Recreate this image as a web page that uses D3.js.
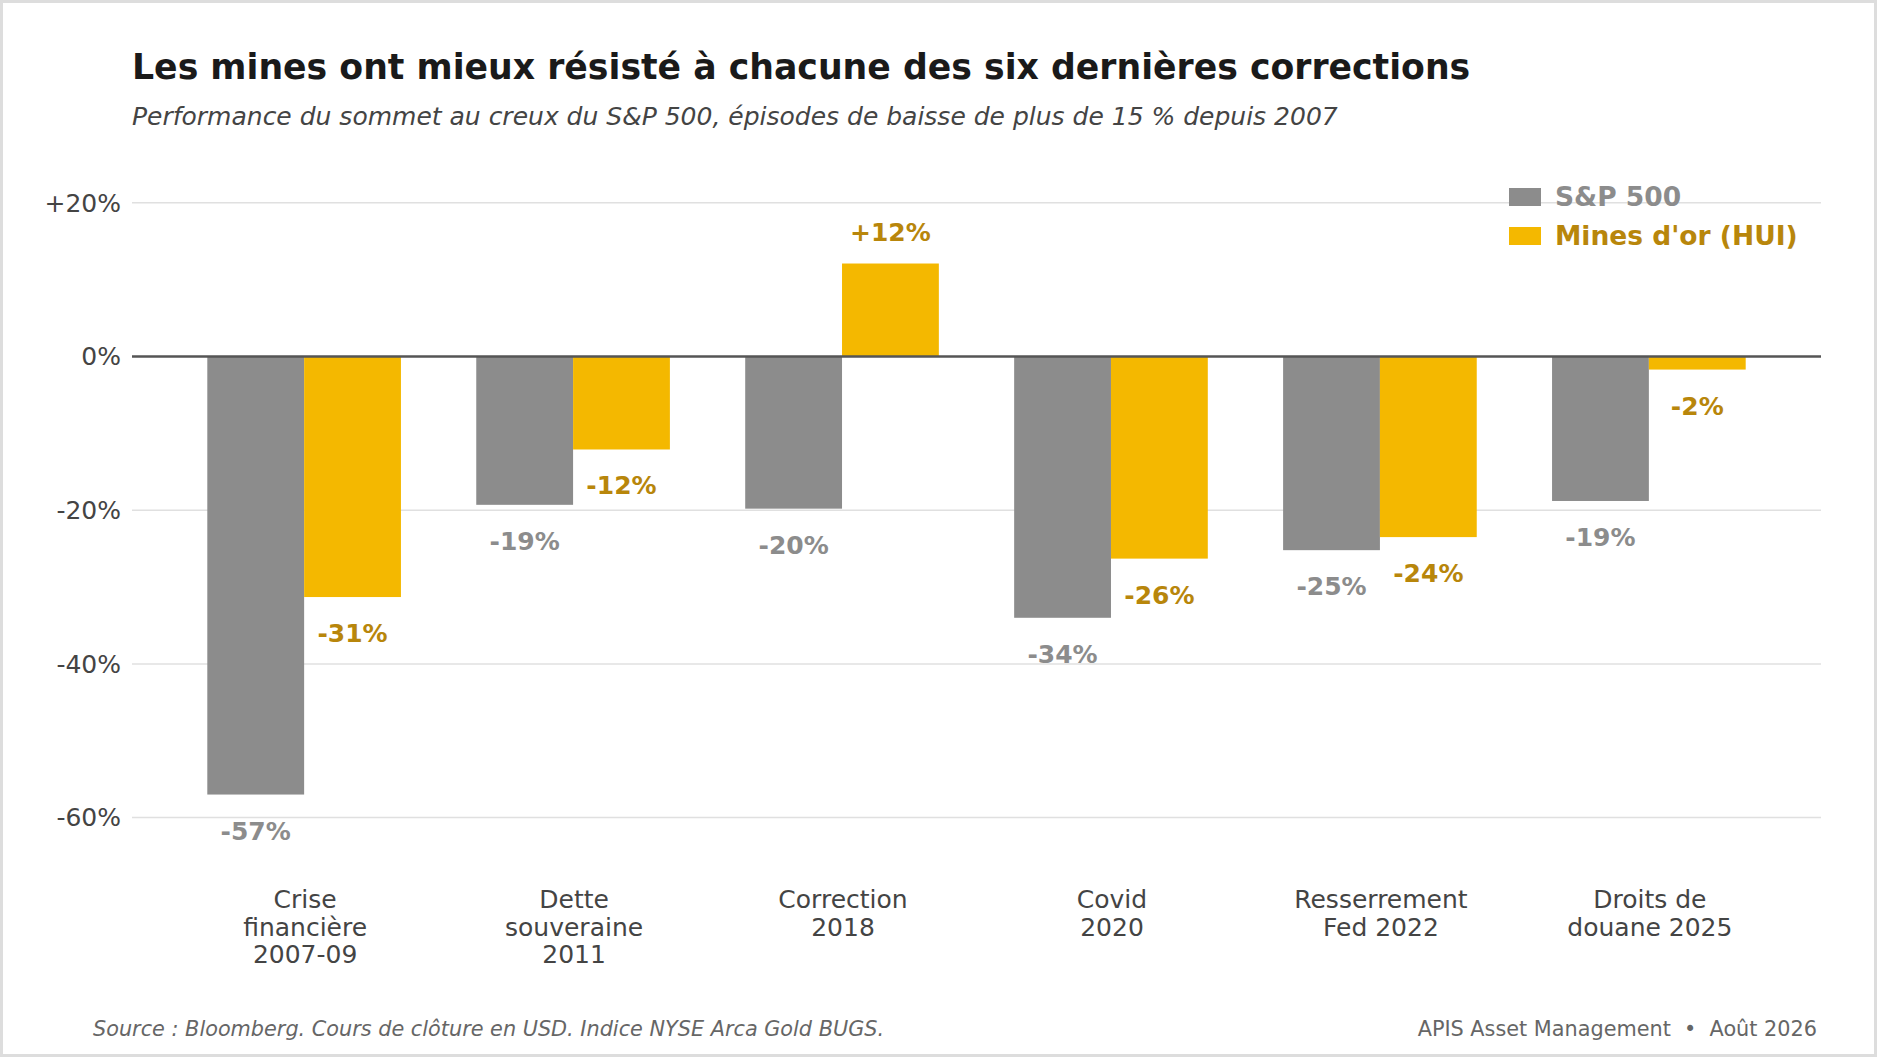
<!DOCTYPE html>
<html>
<head>
<meta charset="utf-8">
<script src="https://cdn.jsdelivr.net/npm/d3@7"></script>
<style>
  html, body { margin: 0; padding: 0; background: #fff; }
  svg { display: block; font-family: "DejaVu Sans", sans-serif; }
</style>
</head>
<body>
<svg id="chart" width="1877" height="1057"></svg>
<script>
// Data
var categories = [
    ["Crise", "financière", "2007-09"],
    ["Dette", "souveraine", "2011"],
    ["Correction", "2018"],
    ["Covid", "2020"],
    ["Resserrement", "Fed 2022"],
    ["Droits de", "douane 2025"]
];
var seriesNames = ["S&P 500", "Mines d'or (HUI)"];
var spx = [-57.0, -19.3, -19.8, -34.0, -25.2, -18.8];
var hui = [-31.3, -12.1, 12.1, -26.3, -23.5, -1.7];
var spxLabels = ["-57%", "-19%", "-20%", "-34%", "-25%", "-19%"];
var huiLabels = ["-31%", "-12%", "+12%", "-26%", "-24%", "-2%"];
var yTicks = [-60, -40, -20, 0, 20];
var yTickLabels = ["-60%", "-40%", "-20%", "0%", "+20%"];

var GRAY = "#8c8c8c", GOLD = "#f4b800", GOLD_TEXT = "#b8860b";

var W = 1877, H = 1057;
var svg = d3.select("#chart");

// frame
svg.append("rect")
    .attr("x", 1.5).attr("y", 1.5)
    .attr("width", W - 3).attr("height", H - 3)
    .attr("fill", "#fff").attr("stroke", "#dddddd").attr("stroke-width", 3);

var left = 132, right = 1821;

var x0 = d3.scaleBand()
    .domain(d3.range(categories.length))
    .range([left, right])
    .padding(0.28);
var x1 = d3.scaleBand()
    .domain([0, 1])
    .range([0, x0.bandwidth()]);
var y = d3.scaleLinear()
    .domain([-70, 25])
    .range([356.5 + 70 * 7.685, 356.5 - 25 * 7.685]);

// Titles
svg.append("text")
    .attr("x", 132).attr("y", 79)
    .attr("font-size", 34.7).attr("font-weight", "bold").attr("fill", "#1a1a1a")
    .text("Les mines ont mieux résisté à chacune des six dernières corrections");
svg.append("text")
    .attr("x", 132).attr("y", 125)
    .attr("font-size", 25).attr("font-style", "italic").attr("fill", "#444")
    .text("Performance du sommet au creux du S&P 500, épisodes de baisse de plus de 15 % depuis 2007");

// Grid + y axis labels
var grid = svg.append("g");
grid.selectAll("line").data(yTicks.filter(function(d) { return d !== 0; }))
    .enter().append("line")
    .attr("x1", left).attr("x2", right)
    .attr("y1", function(d) { return y(d); }).attr("y2", function(d) { return y(d); })
    .attr("stroke", "#e0e0e0").attr("stroke-width", 1.5);
grid.selectAll("text").data(yTicks)
    .enter().append("text")
    .attr("x", 121).attr("y", function(d) { return y(d); })
    .attr("dy", "0.35em")
    .attr("text-anchor", "end")
    .attr("font-size", 25).attr("fill", "#444")
    .text(function(d, i) { return yTickLabels[i]; });

// Bars
var rows = categories.map(function(c, i) {
    return [
        {i: i, s: 0, v: spx[i], label: spxLabels[i]},
        {i: i, s: 1, v: hui[i], label: huiLabels[i]}
    ];
});
var groups = svg.append("g").selectAll("g").data(rows)
    .enter().append("g")
    .attr("transform", function(d, i) { return "translate(" + x0(i) + ",0)"; });

groups.selectAll("rect").data(function(d) { return d; })
    .enter().append("rect")
    .attr("x", function(d) { return x1(d.s); })
    .attr("width", x1.bandwidth())
    .attr("y", function(d) { return y(Math.max(0, d.v)); })
    .attr("height", function(d) { return Math.abs(y(d.v) - y(0)); })
    .attr("fill", function(d) { return d.s === 0 ? GRAY : GOLD; });

groups.selectAll("text").data(function(d) { return d; })
    .enter().append("text")
    .attr("x", function(d) { return x1(d.s) + x1.bandwidth() / 2; })
    .attr("y", function(d) { return d.v < 0 ? y(d.v) + 45 : y(d.v) - 23; })
    .attr("text-anchor", "middle")
    .attr("font-size", 25).attr("font-weight", "bold")
    .attr("fill", function(d) { return d.s === 0 ? GRAY : GOLD_TEXT; })
    .text(function(d) { return d.label; });

// Zero line
svg.append("line")
    .attr("x1", left).attr("x2", right)
    .attr("y1", y(0)).attr("y2", y(0))
    .attr("stroke", "#555").attr("stroke-width", 2.5);

// Category labels
var xl = svg.append("g").selectAll("text").data(categories)
    .enter().append("text")
    .attr("text-anchor", "middle")
    .attr("font-size", 25).attr("fill", "#444")
    .attr("transform", function(d, i) { return "translate(" + (x0(i) + x0.bandwidth() / 2 + 1) + ",908)"; });
xl.selectAll("tspan").data(function(d) { return d; })
    .enter().append("tspan")
    .attr("x", 0)
    .attr("y", function(d, j) { return j * 27.5; })
    .text(function(d) { return d; });

// Legend
var legend = svg.append("g").attr("transform", "translate(1509,188)");
var li = legend.selectAll("g").data(seriesNames)
    .enter().append("g")
    .attr("transform", function(d, i) { return "translate(0," + i * 39 + ")"; });
li.append("rect")
    .attr("width", 32).attr("height", 18)
    .attr("fill", function(d, i) { return i === 0 ? GRAY : GOLD; });
li.append("text")
    .attr("x", 46).attr("y", 18)
    .attr("font-size", 26.5).attr("font-weight", "bold")
    .attr("fill", function(d, i) { return i === 0 ? GRAY : GOLD_TEXT; })
    .text(function(d) { return d; });

// Footer
svg.append("text")
    .attr("x", 93).attr("y", 1036)
    .attr("font-size", 20.8).attr("font-style", "italic").attr("fill", "#666")
    .text("Source : Bloomberg. Cours de clôture en USD. Indice NYSE Arca Gold BUGS.");
svg.append("text")
    .attr("x", 1817).attr("y", 1036)
    .attr("text-anchor", "end")
    .attr("font-size", 20.8).attr("fill", "#666")
    .text("APIS Asset Management  \u2022  Août 2026")
    .style("white-space", "pre");
</script>
</body>
</html>
